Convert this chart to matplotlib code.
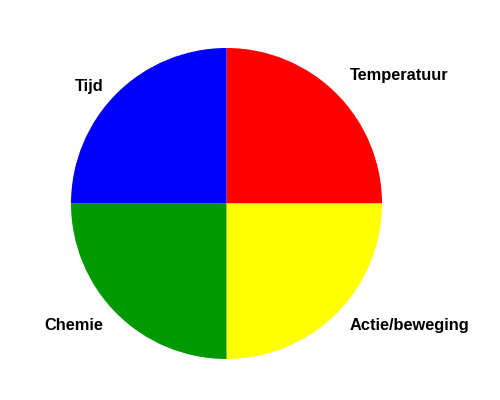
import matplotlib
matplotlib.use("Agg")
import matplotlib.pyplot as plt

labels = ["Temperatuur", "Actie/beweging", "Chemie", "Tijd"]
waarden = [25, 25, 25, 25]
kleuren = ["#ff0000", "#ffff00", "#009900", "#0000ff"]

plt.rcParams['font.family'] = ['Liberation Sans', 'DejaVu Sans']

fig = plt.figure(figsize=(5, 4), dpi=100)
ax = fig.add_axes([71 / 500, 41 / 400, 311 / 500, 311 / 400])

wedges, teksten = ax.pie(waarden, labels=labels, colors=kleuren, startangle=90,
                         counterclock=False, labeldistance=1.12,
                         wedgeprops={'linewidth': 0},
                         textprops={'fontsize': 11.8, 'fontweight': 'bold'})
# kleine verschuivingen van de labels zoals in het origineel
verschuiving = [0.03, 0.01, 0.01, -0.04]
for t, dy in zip(teksten, verschuiving):
    x, y = t.get_position()
    t.set_position((x, y + dy))

ax.set_xlim(-1, 1)
ax.set_ylim(-1, 1)
ax.set_aspect('auto')

fig.savefig("out.png", dpi=100)
